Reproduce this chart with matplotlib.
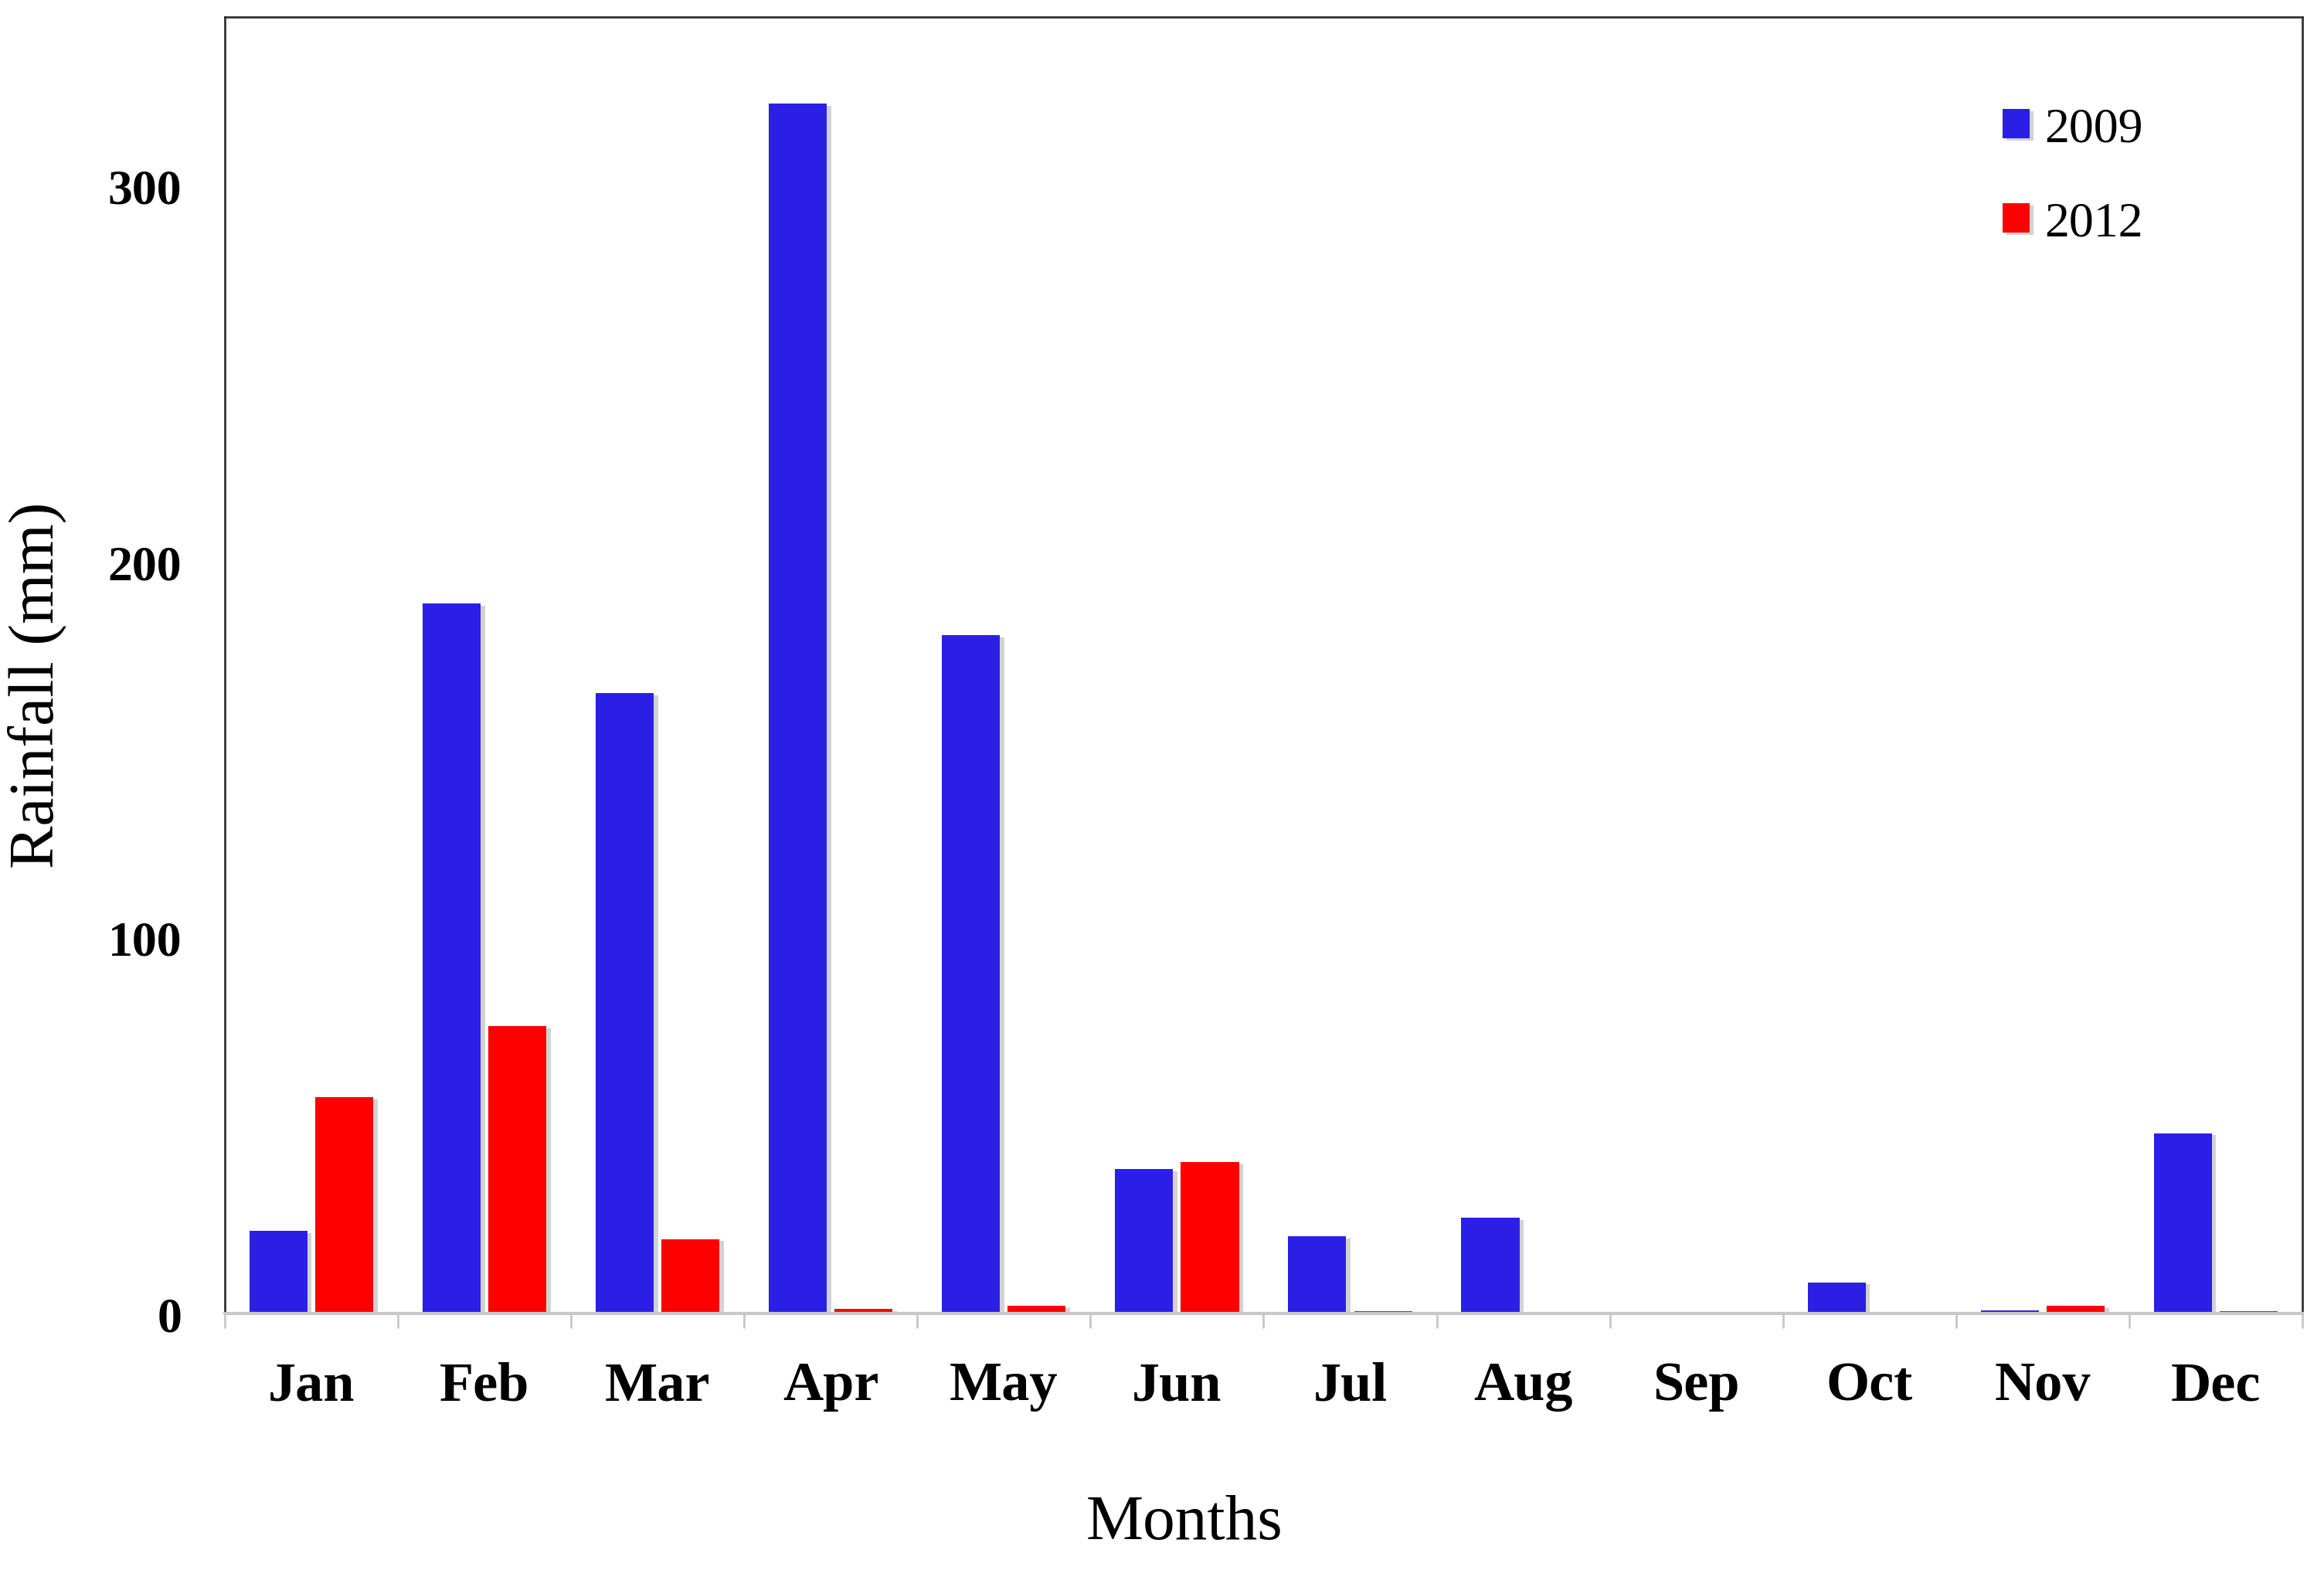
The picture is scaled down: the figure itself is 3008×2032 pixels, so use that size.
import matplotlib.pyplot as plt
import matplotlib.patheffects as pe
import numpy as np

months = ["Jan", "Feb", "Mar", "Apr", "May", "Jun", "Jul", "Aug", "Sep", "Oct", "Nov", "Dec"]
rain_2009 = [22, 189, 165, 322, 180.5, 38.5, 20.5, 25.5, 0, 8.3, 0.8, 48]
rain_2012 = [57.5, 76.5, 19.8, 1.2, 2.0, 40.2, 0.7, 0, 0, 0, 2.0, 0.7]

plt.rcParams['font.family'] = ['Liberation Serif', 'DejaVu Serif']

fig = plt.figure(figsize=(15.04, 10.165), dpi=200)
ax = fig.add_axes([0.0967, 0.1633, 0.894, 0.8254])

x = np.arange(len(months))
w = 0.335
shadow = [pe.SimplePatchShadow(offset=(2, -1), shadow_rgbFace='gray', alpha=0.35), pe.Normal()]

b1 = ax.bar(x - 0.19, rain_2009, w, color='#2B1FE6', label='2009')
b2 = ax.bar(x + 0.19, rain_2012, w, color='#FF0000', label='2012')
for b in list(b1) + list(b2):
    b.set_path_effects(shadow)

ax.set_xlim(-0.5, 11.5)
ax.set_ylim(0, 345)
ax.set_yticks([0, 100, 200, 300])
ax.set_xticks(x)
ax.set_xticklabels(months)
ax.set_xticks(np.arange(-0.5, 12, 1), minor=True)

ax.tick_params(axis='x', which='major', length=0, pad=22, labelsize=26)
ax.tick_params(axis='x', which='minor', length=7, width=1, color='#C8C8C8')
ax.tick_params(axis='y', length=0, pad=20, labelsize=23)
for lab in ax.get_xticklabels() + ax.get_yticklabels():
    lab.set_fontweight('bold')

for s in ['top', 'left', 'right']:
    ax.spines[s].set_color('#333333')
    ax.spines[s].set_linewidth(1.0)
ax.spines['bottom'].set_color('#C8C8C8')
ax.spines['bottom'].set_linewidth(1.5)

ax.set_ylabel("Rainfall (mm)", fontsize=30)
ax.yaxis.set_label_coords(-0.076, 0.485)
ax.set_xlabel("Months", fontsize=30)
ax.xaxis.set_label_coords(0.462, -0.139)

ax.legend(loc='upper left', bbox_to_anchor=(0.839, 0.957), frameon=False,
          fontsize=23, handlelength=0.55, handleheight=0.55, handletextpad=0.3,
          labelspacing=1.0, borderpad=0.2)

plt.savefig("out.png", dpi=200)
